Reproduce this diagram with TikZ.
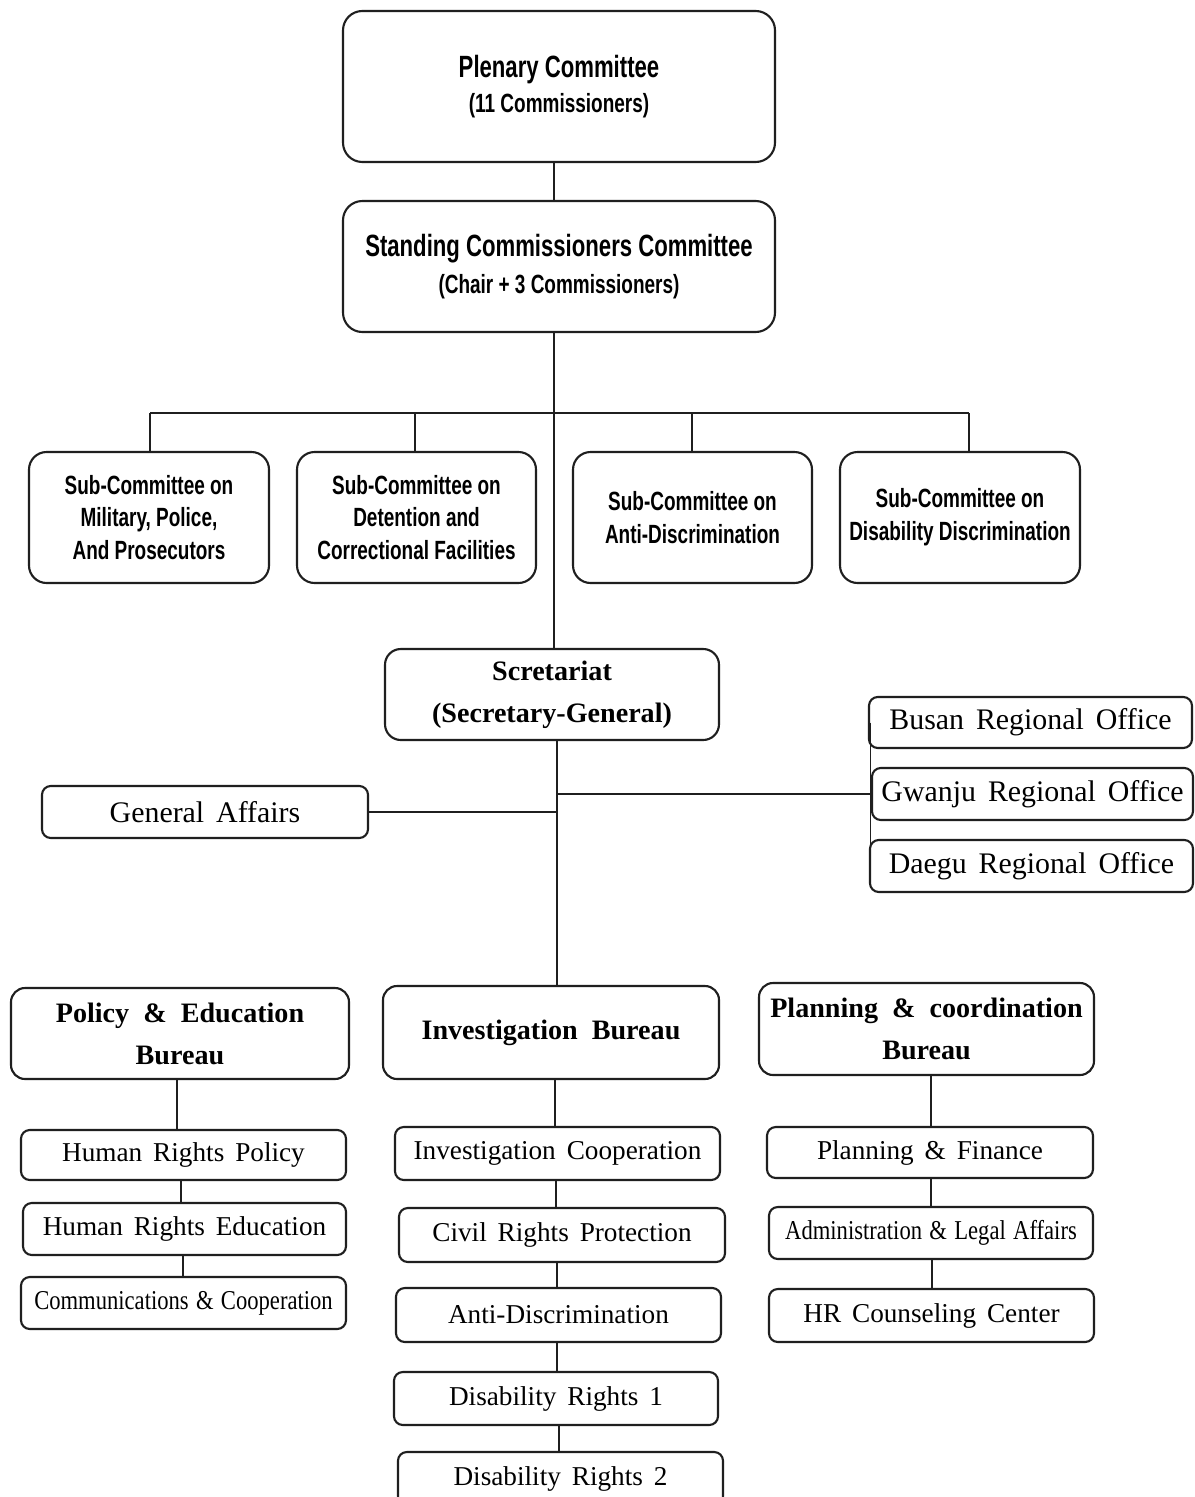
\documentclass[tikz,border=0pt]{standalone}
\usepackage{fontspec}
\usepackage{graphicx}
\setmainfont{Liberation Serif}
\newfontfamily\nsans[FakeStretch=0.72]{Liberation Sans}
\newfontfamily\kser[WordSpace=1.6]{Liberation Serif}
\newfontfamily\kcond[WordSpace=1.3,FakeStretch=0.83]{Liberation Serif}
\begin{document}
\begin{tikzpicture}[x=0.02cm,y=-0.02cm]
\tikzset{
  wh/.style 2 args={minimum width={#1*0.02cm}, minimum height={#2*0.02cm}},
  anybox/.style={draw=black!88, line width=1.2pt, fill=white, align=center, inner sep=0pt},
  topbox/.style={anybox, rounded corners=11pt, font=\nsans\bfseries\fontsize{17.5}{19.5}\selectfont},
  subbox/.style={anybox, rounded corners=10pt, font=\nsans\bfseries\fontsize{15}{18.7}\selectfont},
  burbox/.style={anybox, rounded corners=8pt, font=\bfseries\fontsize{16}{24}\selectfont},
  unitbox/.style={anybox, rounded corners=5pt, font=\kser\fontsize{15.5}{18}\selectfont},
  regbox/.style={anybox, rounded corners=5pt, font=\kser\fontsize{17}{20}\selectfont},
  link/.style={draw=black!88, line width=1.1pt}
}
\fill[white] (0,0) rectangle (1194,1497);
\useasboundingbox (0,0) rectangle (1194,1497);

% top committees
\node[topbox, wh={432}{151}] (plen) at (559,86.5)
  {Plenary Committee\\{\fontsize{15}{19.5}\selectfont (11 Commissioners)}};
\node[topbox, wh={432}{131}, font=\nsans\bfseries\fontsize{17.5}{21.5}\selectfont] (stand) at (559,266.5)
  {Standing Commissioners Committee\\{\fontsize{15}{21.5}\selectfont (Chair + 3 Commissioners)}};

% sub-committees
\node[subbox, wh={240}{131}] (s1) at (149,517.5) {Sub-Committee on\\Military, Police,\\And Prosecutors};
\node[subbox, wh={239}{131}] (s2) at (416.5,517.5) {Sub-Committee on\\Detention and\\Correctional Facilities};
\node[subbox, wh={239}{131}] (s3) at (692.5,517.5) {Sub-Committee on\\Anti-Discrimination};
\node[subbox, wh={240}{131}] (s4) at (960,517.5) {Sub-Committee on\\Disability Discrimination};

% secretariat
\node[burbox, wh={334}{91}, rounded corners=9pt] (sec) at (552,694.5) {Scretariat\\(Secretary-General)};

% general affairs and regional offices
\node[regbox, wh={326}{52}] (ga) at (205,812) {General Affairs};
\node[regbox, wh={323}{51}] (bus) at (1030.5,722.5) {Busan Regional Office};
\node[regbox, wh={321}{52}] (gw) at (1032.5,794) {Gwanju Regional Office};
\node[regbox, wh={323}{52}] (dae) at (1031.5,866) {Daegu Regional Office};

% bureaus
\node[burbox, wh={338}{91}] (pol) at (180,1033.5) {Policy \ \& \ Education\\Bureau};
\node[burbox, wh={336}{93}] (inv) at (551,1032.5) {Investigation \ Bureau};
\node[burbox, wh={335}{92}] (pla) at (926.5,1029) {Planning \ \& \ coordination\\Bureau};

% policy units
\node[unitbox, wh={325}{50}] (hrp) at (183.5,1155) {Human Rights Policy};
\node[unitbox, wh={323}{52}] (hre) at (184.5,1229) {Human Rights Education};
\node[unitbox, wh={325}{52}, font=\kcond\fontsize{15.5}{18}\selectfont] (com) at (183.5,1303) {Communications \& Cooperation};

% investigation units
\node[unitbox, wh={325}{53}] (ic) at (557.5,1153.5) {Investigation Cooperation};
\node[unitbox, wh={326}{54}] (crp) at (562,1235) {Civil Rights Protection};
\node[unitbox, wh={325}{54}] (ad) at (558.5,1315) {Anti-Discrimination};
\node[unitbox, wh={324}{53}] (dr1) at (556,1398.5) {Disability Rights 1};
\node[unitbox, wh={325}{53}] (dr2) at (560.5,1478.5) {Disability Rights 2};

% planning units
\node[unitbox, wh={326}{51}] (pf) at (930,1152.5) {Planning \& Finance};
\node[unitbox, wh={324}{52}, font=\kcond\fontsize{15.5}{18}\selectfont] (alf) at (931,1233) {Administration \& Legal Affairs};
\node[unitbox, wh={325}{53}] (hrc) at (931.5,1315.5) {HR Counseling Center};

% connector coordinates
\coordinate (t0) at (554,0);
\coordinate (t1) at (557,0);
\coordinate (d1) at (150,413);
\coordinate (d2) at (415,413);
\coordinate (d3) at (692,413);
\coordinate (d4) at (969,413);
\coordinate (rx) at (870.5,0);
\coordinate (pa) at (177,0);
\coordinate (pb) at (181,0);
\coordinate (pc) at (183,0);
\coordinate (ia) at (555,0);
\coordinate (ib) at (556,0);
\coordinate (ic0) at (557,0);
\coordinate (id) at (557,0);
\coordinate (ie) at (559,0);
\coordinate (qa) at (931,0);
\coordinate (qb) at (931,0);
\coordinate (qc) at (932,0);

% connectors
\draw[link] (plen.south -| t0) -- (stand.north -| t0);
\draw[link] (stand.south -| t0) -- (sec.north -| t0);
\draw[link] (d1) -- (d4);
\draw[link] (d1) -- (s1.north -| d1);
\draw[link] (d2) -- (s2.north -| d2);
\draw[link] (d3) -- (s3.north -| d3);
\draw[link] (d4) -- (s4.north -| d4);
\draw[link] (sec.south -| t1) -- (inv.north -| t1);
\draw[link] (ga.east) -- (ga.east -| t1);
\draw[link] (gw.west -| t1) -- (gw.west);
\draw[link] (bus.west -| rx) -- (dae.west -| rx);

\draw[link] (pol.south -| pa) -- (hrp.north -| pa);
\draw[link] (hrp.south -| pb) -- (hre.north -| pb);
\draw[link] (hre.south -| pc) -- (com.north -| pc);

\draw[link] (inv.south -| ia) -- (ic.north -| ia);
\draw[link] (ic.south -| ib) -- (crp.north -| ib);
\draw[link] (crp.south -| ic0) -- (ad.north -| ic0);
\draw[link] (ad.south -| id) -- (dr1.north -| id);
\draw[link] (dr1.south -| ie) -- (dr2.north -| ie);

\draw[link] (pla.south -| qa) -- (pf.north -| qa);
\draw[link] (pf.south -| qb) -- (alf.north -| qb);
\draw[link] (alf.south -| qc) -- (hrc.north -| qc);
\end{tikzpicture}
\end{document}
